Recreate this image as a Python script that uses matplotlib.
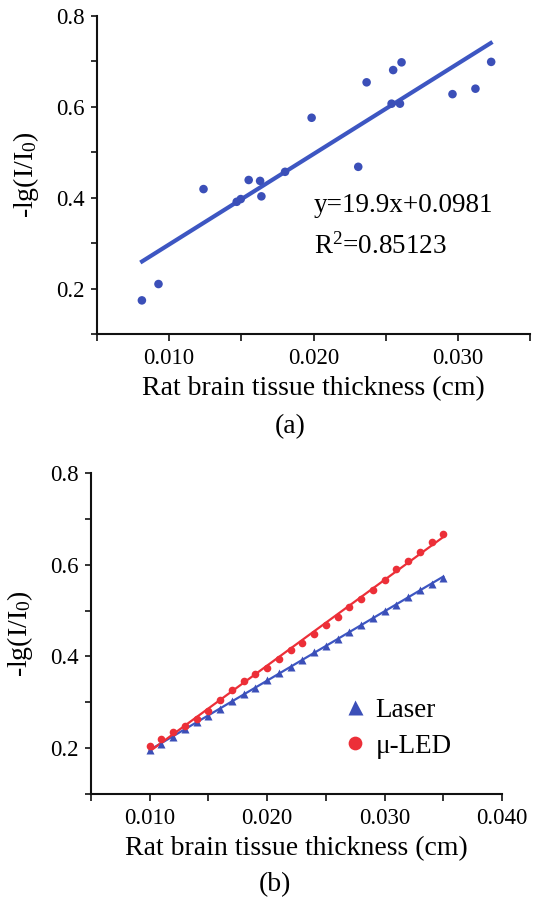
import numpy as np
import matplotlib
matplotlib.use("Agg")
import matplotlib.pyplot as plt
from matplotlib.ticker import MultipleLocator, FixedLocator, FixedFormatter

plt.rcParams['font.family'] = ['Liberation Serif', 'DejaVu Serif']
plt.rcParams['mathtext.fontset'] = 'custom'
plt.rcParams['mathtext.rm'] = 'Liberation Serif'
plt.rcParams['mathtext.it'] = 'Liberation Serif:italic'

# ---- Panel (a) data ----
thick_a = [0.00811, 0.00926, 0.01238, 0.01468, 0.01496, 0.01551, 0.01630, 0.01639,
           0.01803, 0.01987, 0.02310, 0.02368, 0.02541, 0.02552, 0.02599, 0.02610,
           0.02963, 0.03122, 0.03231]
absorb_a = [0.174, 0.210, 0.419, 0.391, 0.397, 0.439, 0.437, 0.403,
            0.457, 0.576, 0.468, 0.654, 0.607, 0.681, 0.607, 0.698,
            0.628, 0.640, 0.699]
fit_slope = 19.9
fit_intercept = 0.0981
fit_range = [0.0080, 0.0324]
eq_text = "y=19.9x+0.0981"
r2_text = "R$^2$=0.85123"

# ---- Panel (b) data ----
thick_b = [0.010, 0.011, 0.012, 0.013, 0.014, 0.015, 0.016, 0.017, 0.018, 0.019,
           0.020, 0.021, 0.022, 0.023, 0.024, 0.025, 0.026, 0.027, 0.028, 0.029,
           0.030, 0.031, 0.032, 0.033, 0.034, 0.035]
laser = [0.197, 0.209, 0.224, 0.242, 0.257, 0.271, 0.286, 0.303, 0.317, 0.332,
         0.348, 0.364, 0.378, 0.393, 0.409, 0.422, 0.439, 0.453, 0.468, 0.484,
         0.498, 0.513, 0.529, 0.544, 0.559, 0.572]
uled = [0.205, 0.220, 0.235, 0.249, 0.264, 0.281, 0.304, 0.326, 0.346, 0.361,
        0.375, 0.395, 0.413, 0.429, 0.449, 0.468, 0.486, 0.508, 0.526, 0.545,
        0.566, 0.591, 0.609, 0.628, 0.649, 0.668]

xlabel = "Rat brain tissue thickness (cm)"
ylabel = "-lg(I/I$_0$)"

BLUE = '#3b4fb8'
LBLUE = '#3d56c2'
RED = '#ec2f38'

fig = plt.figure(figsize=(5.54, 9.0), dpi=100)

def style_axes(ax, xmax, xmajor):
    for s in ['top', 'right']:
        ax.spines[s].set_visible(False)
    for s in ['left', 'bottom']:
        ax.spines[s].set_linewidth(1.5)
        ax.spines[s].set_color('#111111')
    ax.set_xlim(0.005, xmax)
    ax.set_ylim(0.1, 0.8)
    ax.xaxis.set_major_locator(FixedLocator(xmajor))
    ax.xaxis.set_major_formatter(FixedFormatter(["%.3f" % v for v in xmajor]))
    ax.xaxis.set_minor_locator(MultipleLocator(0.005))
    ax.yaxis.set_major_locator(FixedLocator([0.2, 0.4, 0.6, 0.8]))
    ax.yaxis.set_major_formatter(FixedFormatter(["0.2", "0.4", "0.6", "0.8"]))
    ax.yaxis.set_minor_locator(FixedLocator([0.1, 0.3, 0.5, 0.7]))
    ax.tick_params(which='both', direction='out', width=1.2, color='#111111')
    ax.tick_params(axis='x', which='both', length=5, labelsize=16.5, pad=5)
    ax.tick_params(axis='y', which='both', length=4, labelsize=16.5, pad=5)
    ax.set_xlabel(xlabel, fontsize=20, labelpad=5)
    ax.set_ylabel(ylabel, fontsize=20, labelpad=11)

# Panel (a)
axa = fig.add_axes([97/554, 1-334/900, (530-97)/554, (334-16)/900])
style_axes(axa, 0.035, [0.010, 0.020, 0.030])
xf = np.array(fit_range)
axa.plot(xf, fit_slope*xf + fit_intercept, color=LBLUE, lw=3, solid_capstyle='butt', zorder=2)
axa.scatter(thick_a, absorb_a, s=38, color=BLUE, edgecolors='none', zorder=3)
axa.text(0.0200, 0.382, eq_text, fontsize=19.5, ha='left', va='center')
axa.text(0.0200, 0.292, r2_text, fontsize=19.5, ha='left', va='center')
fig.text(290/554, 1-427/900, "(a)", fontsize=20, ha='center', va='center')

# Panel (b)
axb = fig.add_axes([91/554, 1-794/900, (502-91)/554, (794-473)/900])
style_axes(axb, 0.040, [0.010, 0.020, 0.030, 0.040])
xb = np.array(thick_b)
pl = np.polyfit(xb, laser, 1)
pu = np.polyfit(xb, uled, 1)
axb.plot(xb, np.polyval(pl, xb), color=LBLUE, lw=1.6, zorder=2)
axb.plot(xb, np.polyval(pu, xb), color=RED, lw=1.6, zorder=2)
axb.plot(xb, laser, linestyle='none', marker='^', ms=6, color=BLUE, mec='none', zorder=3, label='Laser')
axb.plot(xb, uled, linestyle='none', marker='o', ms=5.5, color=RED, mec='none', zorder=3, label='\u03bc-LED')
leg = axb.legend(loc='center left', bbox_to_anchor=(0.61, 0.205), frameon=False, fontsize=19.5,
                 handletextpad=0.25, handlelength=1.0, labelspacing=0.4, markerscale=1.8,
                 borderaxespad=0, borderpad=0)
fig.text(275/554, 1-885/900, "(b)", fontsize=20, ha='center', va='center')

fig.savefig("out.png", dpi=100)
